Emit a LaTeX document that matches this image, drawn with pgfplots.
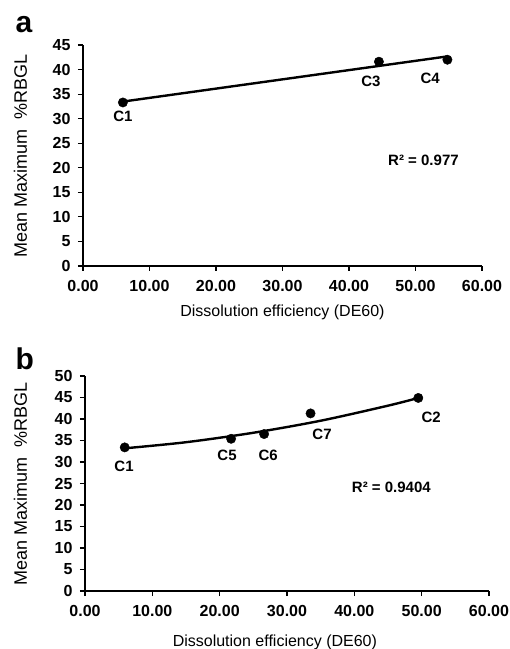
\documentclass[border=0pt]{standalone}
\usepackage{fontspec}
\setmainfont{Liberation Sans}
\usepackage{pgfplots}
\pgfplotsset{compat=1.18}

\pgfplotsset{
  dissplot/.style={
    scale only axis,
    axis lines=left,
    axis line style={-, line width=1.8pt},
    tick align=outside,
    major tick length=5pt,
    tick style={line width=1.2pt, black},
    xmin=0, xmax=60, ymin=0,
    xtick={0,10,...,60},
    xticklabel style={/pgf/number format/fixed, /pgf/number format/fixed zerofill,
      /pgf/number format/precision=2, /pgf/number format/assume math mode=true, yshift=-6pt},
    yticklabel style={/pgf/number format/assume math mode=true, xshift=-4pt},
    tick label style={font=\fontsize{16}{19}\selectfont\bfseries},
    xlabel style={font=\fontsize{16}{19}\selectfont, anchor=center},
    ylabel style={font=\fontsize{18}{21}\selectfont, anchor=center},
    xlabel={Dissolution efficiency (DE60)},
    ylabel={Mean Maximum~~\%RBGL},
    clip=false,
  },
  pts/.style={only marks, mark=*, mark size=4.7pt, black},
  fit/.style={no marks, black, line width=2.4pt},
}
\tikzset{lbl/.style={font=\fontsize{15}{17}\selectfont\bfseries}}

\begin{document}
\begin{tikzpicture}
\path[use as bounding box] (0,0) rectangle (510pt,649pt);

% panel letters
\node[font=\fontsize{30}{30}\selectfont\bfseries, anchor=base west] at (12pt,616pt) {a};
\node[font=\fontsize{30}{30}\selectfont\bfseries, anchor=base west] at (12pt,279pt) {b};

% panel a
\begin{axis}[dissplot, at={(83pt,383pt)}, anchor=south west,
    width=399pt, height=221pt, ymax=45, ytick={0,5,...,45},
    every axis x label/.append style={at={(axis description cs:0.5,-0.208)}},
    every axis y label/.append style={at={(axis description cs:-0.1566,0.5)}}]
  \addplot[fit] coordinates {(6.0,33.48) (54.8,42.68)};
  \addplot[pts] coordinates {(6.0,33.3) (44.5,41.6) (54.8,42.0)};
  \node[lbl] at (axis cs:6.0,30.4) {C1};
  \node[lbl] at (axis cs:43.3,37.7) {C3};
  \node[lbl] at (axis cs:52.2,38.3) {C4};
  \node[lbl] at (axis cs:51.2,21.6) {R² = 0.977};
\end{axis}

% panel b
\begin{axis}[dissplot, at={(85pt,58pt)}, anchor=south west,
    width=404pt, height=215pt, ymax=50, ytick={0,5,...,50},
    every axis x label/.append style={at={(axis description cs:0.47,-0.237)}},
    every axis y label/.append style={at={(axis description cs:-0.16,0.5)}}]
  \addplot[fit, smooth] coordinates {(6,33.2) (15,34.6) (25,36.8) (35,39.6) (45,43.1) (49.5,44.9)};
  \addplot[pts] coordinates {(5.9,33.4) (21.7,35.4) (26.6,36.5) (33.5,41.3) (49.5,44.9)};
  \node[lbl] at (axis cs:5.8,28.9) {C1};
  \node[lbl] at (axis cs:21.1,31.6) {C5};
  \node[lbl] at (axis cs:27.2,31.6) {C6};
  \node[lbl] at (axis cs:35.2,36.5) {C7};
  \node[lbl] at (axis cs:51.4,40.5) {C2};
  \node[lbl] at (axis cs:45.5,24.2) {R² = 0.9404};
\end{axis}
\end{tikzpicture}
\end{document}
